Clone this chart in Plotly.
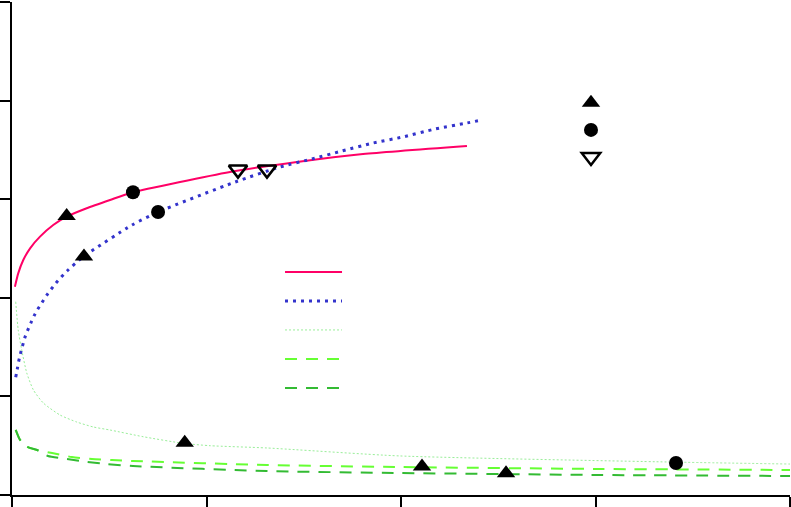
import plotly.graph_objects as go

# ---- data ----
red_x = [0.015, 0.032, 0.058, 0.093, 0.144, 0.212, 0.281, 0.384, 0.504, 0.615,
         1.121, 1.465, 1.805, 2.339]
red_y = [2.113, 2.248, 2.383, 2.502, 2.620, 2.738, 2.823, 2.908, 2.992, 3.066,
         3.276, 3.377, 3.458, 3.540]

blue_x = [0.019, 0.027, 0.034, 0.043, 0.053, 0.065, 0.079, 0.096, 0.113, 0.132,
          0.154, 0.178, 0.226, 0.283, 0.365, 0.617, 0.751, 1.147, 1.378, 1.542,
          1.697, 1.856, 2.010, 2.175, 2.339, 2.416]
blue_y = [1.194, 1.275, 1.352, 1.430, 1.504, 1.590, 1.663, 1.741, 1.815, 1.883,
          1.950, 2.025, 2.150, 2.272, 2.414, 2.738, 2.870, 3.174, 3.327, 3.408,
          3.489, 3.570, 3.631, 3.712, 3.773, 3.803]

lgdot_x = [0.019, 0.032, 0.050, 0.076, 0.110, 0.161, 0.247, 0.333, 0.418, 0.504,
           0.675, 0.881, 1.018, 1.311, 1.995, 3.368, 4.0]
lgdot_y = [1.960, 1.673, 1.471, 1.237, 1.065, 0.933, 0.811, 0.740, 0.690, 0.659,
           0.591, 0.524, 0.500, 0.477, 0.396, 0.335, 0.314]

bgdash_x = [0.019, 0.041, 0.077, 0.129, 0.206, 0.308, 0.411, 0.514, 0.622, 1.311,
            1.995, 3.023, 4.0]
bgdash_y = [0.66, 0.56, 0.49, 0.456, 0.426, 0.385, 0.365, 0.355, 0.345, 0.304,
            0.284, 0.264, 0.254]

dgdash_x = [0.019, 0.041, 0.077, 0.129, 0.185, 0.283, 0.386, 0.488, 0.622, 1.311,
            1.995, 3.023, 4.0]
dgdash_y = [0.66, 0.56, 0.49, 0.456, 0.396, 0.365, 0.335, 0.314, 0.294, 0.243,
            0.223, 0.203, 0.193]

tri_x = [0.281, 0.370, 0.888, 2.108, 2.540]
tri_y = [2.83, 2.42, 0.53, 0.29, 0.22]

circ_x = [0.622, 0.751, 3.414]
circ_y = [3.07, 2.87, 0.325]

dtri_x = [1.162, 1.311]
dtri_y = [3.30, 3.30]

x_ticks = [0, 1, 2, 3, 4]
y_ticks = [0, 1, 2, 3, 4, 5]

fig = go.Figure()

def line_trace(x, y, color, width, dash):
    return go.Scatter(x=x, y=y, mode="lines", name=" ",
                      line=dict(color=color, width=width, dash=dash,
                                shape="spline", smoothing=0.6),
                      legend="legend", hoverinfo="skip")

fig.add_trace(line_trace(red_x, red_y, "#ff0066", 2, "solid"))
fig.add_trace(line_trace(blue_x, blue_y, "#3333cc", 3, "3px,5px"))
fig.add_trace(line_trace(lgdot_x, lgdot_y, "#99ee99", 1, "2px,2px"))
fig.add_trace(line_trace(bgdash_x, bgdash_y, "#66ff33", 2, "12px,9px"))
fig.add_trace(line_trace(dgdash_x, dgdash_y, "#33bb33", 2, "12px,9px"))

fig.add_trace(go.Scatter(x=tri_x, y=tri_y, mode="markers", name=" ",
                         marker=dict(symbol="triangle-up", size=16, color="black"),
                         legend="legend2", hoverinfo="skip"))
fig.add_trace(go.Scatter(x=circ_x, y=circ_y, mode="markers", name=" ",
                         marker=dict(symbol="circle", size=14, color="black"),
                         legend="legend2", hoverinfo="skip"))
fig.add_trace(go.Scatter(x=dtri_x, y=dtri_y, mode="markers", name=" ",
                         marker=dict(symbol="triangle-down-open", size=16, color="black",
                                     line=dict(color="black", width=2.5)),
                         legend="legend2", hoverinfo="skip"))

axis_common = dict(showgrid=False, zeroline=False, showline=True, linecolor="black",
                   linewidth=2, ticks="outside", ticklen=10, tickwidth=2,
                   tickcolor="black", showticklabels=False, mirror=False)

fig.update_layout(
    width=791, height=507,
    margin=dict(l=12, r=1, t=2, b=12),
    paper_bgcolor="white", plot_bgcolor="white",
    showlegend=True,
    xaxis=dict(range=[0, 4], tickvals=x_ticks, **axis_common),
    yaxis=dict(range=[0, 5], tickvals=y_ticks, **axis_common),
    legend=dict(x=0.3445, y=0.492, xanchor="left", yanchor="top",
                bgcolor="rgba(0,0,0,0)", borderwidth=0, itemwidth=57,
                font=dict(size=20, family="Liberation Sans"), tracegroupgap=0),
    legend2=dict(x=0.7185, y=0.833, xanchor="left", yanchor="top",
                 bgcolor="rgba(0,0,0,0)", borderwidth=0, itemwidth=30,
                 font=dict(size=18.5, family="Liberation Sans"), tracegroupgap=0),
)

fig.write_html("out.html")
